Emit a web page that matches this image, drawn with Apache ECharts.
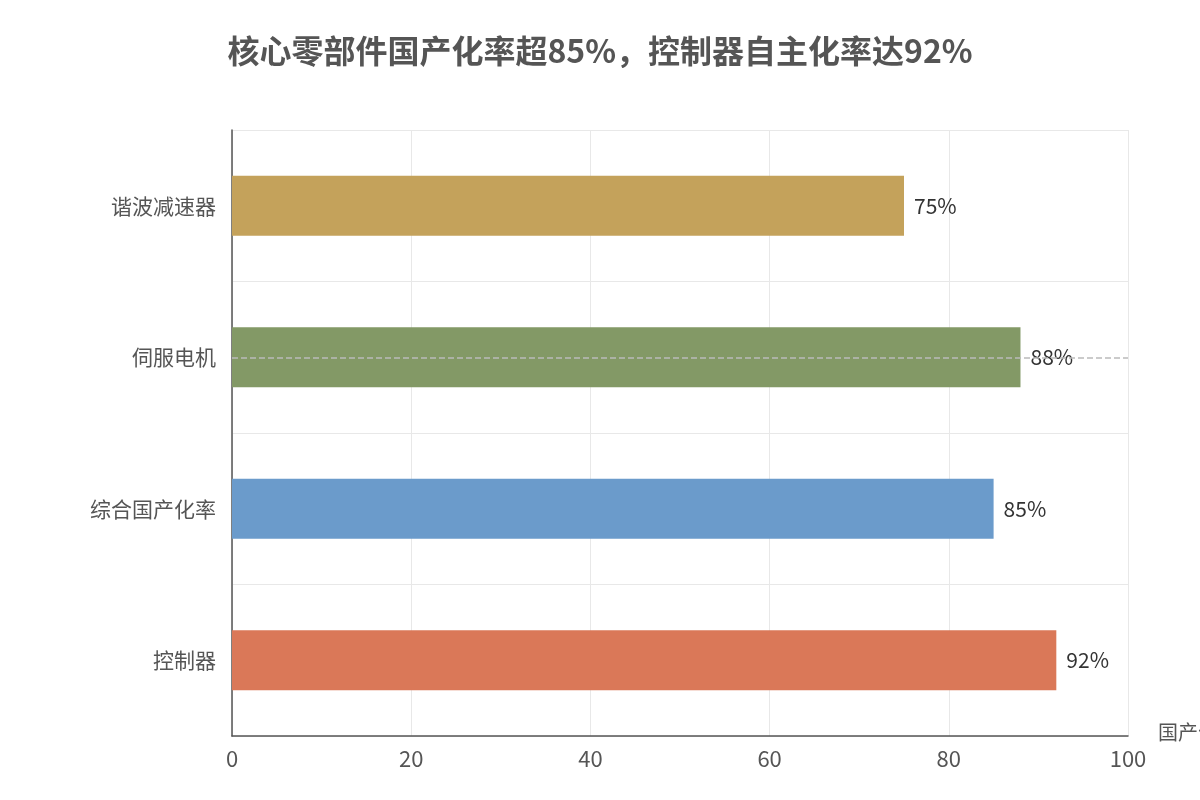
<!doctype html>
<html>
<head>
<meta charset="utf-8">
<style>html,body{margin:0;padding:0;}#main{width:1200px;height:800px;}</style>
</head>
<body>
<div id="main"></div>
<script src="https://cdn.jsdelivr.net/npm/echarts@6/dist/echarts.min.js"></script>
<script>
var categories = ['控制器', '综合国产化率', '伺服电机', '谐波减速器'];
var values = [92, 85, 88, 75];
var colors = ['#DA7858', '#6B9BCB', '#839966', '#C4A25B'];
var xTicks = [0, 20, 40, 60, 80, 100];

var chart = echarts.init(document.getElementById('main'));
var font = '"Noto Sans CJK SC", "Noto Sans", sans-serif';

chart.setOption({
    textStyle: { fontFamily: font },
    title: {
        text: '核心零部件国产化率超85%，控制器自主化率达92%',
        left: 'center',
        top: 30,
        textStyle: { fontSize: 32, fontWeight: 'bold', color: '#555', fontFamily: font }
    },
    grid: { left: 232, right: 72, top: 130, bottom: 64, containLabel: false, outerBoundsMode: 'none' },
    xAxis: {
        type: 'value',
        min: xTicks[0],
        max: xTicks[xTicks.length - 1],
        interval: 20,
        name: '国产化率(%)',
        nameGap: 30,
        nameTextStyle: { fontSize: 20, color: '#555', verticalAlign: 'top', padding: [-14, 0, 0, 0] },
        axisLine: { show: true, lineStyle: { color: '#555', width: 1.5 } },
        axisTick: { show: false },
        axisLabel: { fontSize: 22, color: '#555', margin: 12 },
        splitLine: { lineStyle: { color: '#e8e8e8' } }
    },
    yAxis: {
        type: 'category',
        data: categories,
        axisLine: { show: true, lineStyle: { color: '#555', width: 1.5 } },
        axisTick: { show: false },
        axisLabel: { fontSize: 21, color: '#555', margin: 16 },
        splitLine: { show: true, lineStyle: { color: '#e8e8e8' } }
    },
    series: [{
        type: 'bar',
        barWidth: 60,
        data: values.map(function (v, i) {
            return { value: v, itemStyle: { color: colors[i] } };
        }),
        label: { show: true, position: 'right', formatter: '{c}%', fontSize: 21, color: '#333', distance: 10 },
        markLine: {
            silent: true,
            symbol: 'none',
            label: { show: false },
            lineStyle: { type: 'dashed', color: '#bbb', width: 1.5 },
            data: [{ yAxis: '伺服电机' }]
        }
    }]
});
</script>
</body>
</html>
